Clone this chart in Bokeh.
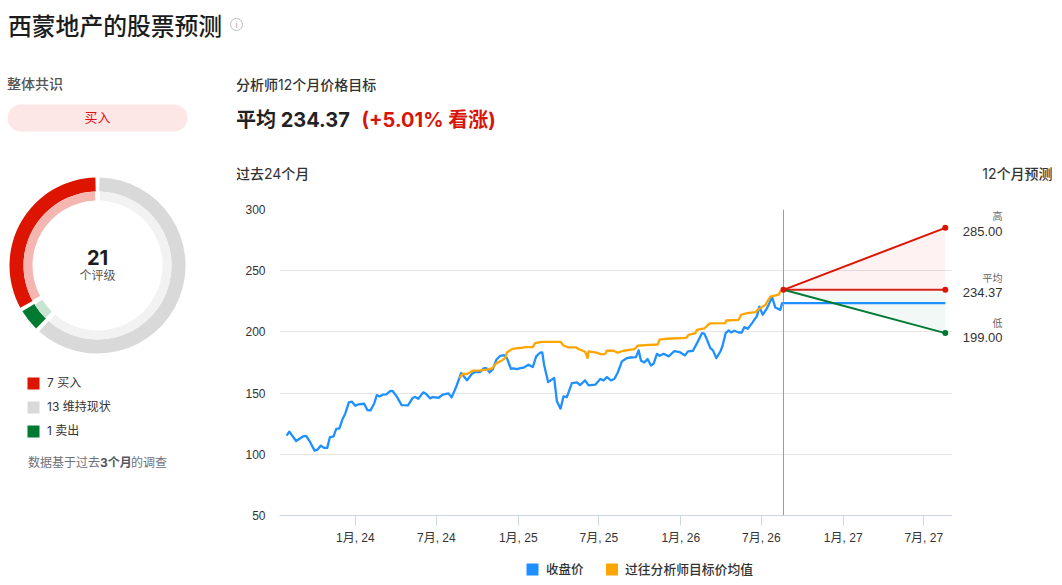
import numpy as np
from bokeh.plotting import figure
from bokeh.layouts import column, row
from bokeh.models import Range1d, FixedTicker
from bokeh.core.properties import value
from bokeh.embed import file_html
from bokeh.resources import INLINE

# ---- data: x positions, in days since 2024-01-01 after calibration below ----
close_read = [-154,-148,-133,-117,-111,-102,-92,-86,-78,-71,-64,-58,-50,-44,-37,-30,-24,-16,-9,-2,5,18,25,32,40,46,52,59,67,75.5,81,90,101,115,126,131,138,149,155,164,170,183,192,205,212,223,233,238,246,257,264,275,283,289,296,303,311,320,329,334.5,343.4,349,357,
 364,371,382.5,392,399.5,408,413,417,426,439.5,445.4,453.5,460,467.6,478.7,490,497,508,515.7,530.5,541.6,549,556.4,565.3,572.7,580,589.7,599.3,608,620.8,626.7,632,639.3,646.7,654,660,667.4,673.3,682.2,693.3,705.9,717.7,729.6,736.2,747.3,756.2,767.3,772.5,778.4,785.8,791.7,799,808,812.4,819.8,826.5,831.7,839,848.7,855.4,861.3,868.7,878.3,889.4,894.6,902,911.6,922.7,930,941,945,948,1307]
close_vals = [115.2,118.5,110.9,114.7,115,110.1,103,103.8,107.1,105.2,105.2,114.1,114.7,120.7,121.2,128.8,133.2,142.4,143,139.7,140.8,141.3,136.2,135.9,141.3,148.4,147.3,148.7,149,151.7,151.7,147.3,140.2,140,146.2,146.8,145.4,150.6,149.5,145.7,146.8,146.2,148.7,149.8,146.5,156,166.4,164.2,160.4,165.8,167.2,167.2,170.2,170.4,166.9,169.1,177.2,180.5,181,178.6,169.9,170.2,169.6,
 170.4,170.7,173.2,171.3,180,183,183.2,173.2,159,162.3,143.3,137.3,147.3,146.8,158.2,158.8,156.6,160.4,156.3,156.9,161.5,160.4,163.1,160.4,161.5,166.4,175.9,178.3,179.1,179.4,184.9,176.4,175.1,177.8,172.6,174,182.1,180.5,182.1,180,184.3,183.5,180.8,184.1,184.6,190.8,199,198.5,193.6,186.8,184.9,178.6,184,188.1,199,201.2,199.5,200.9,199.5,199.5,203.9,202.5,207.2,213.1,220.7,214,219.4,228.4,219.9,218,223.5,223.5,223.5]
target_read = [229.4,237,246,259,275,290,302,311,323.4,331,334.6,345.6,360.4,364,375,392,397,412,454,460,471,488,493.5,508,513.5,515.7,530.5,545.3,552.7,556.4,571,580,593.4,617.8,624.5,641.5,668.9,673.3,689.6,732.5,737.7,752.5,756.2,772.5,784.3,819,821.3,848.7,854,867.2,885.7,893,908,919,937.5,941,948]
target_vals = [162.3,165.8,165.5,168.3,168.5,169.1,170.2,174.5,176.7,178.6,183.2,185.9,187,186.8,187.6,187.6,190.8,191.9,191.9,188.9,187.3,187.3,186,183.8,178.6,184,183.2,181.6,182.1,184.6,184.6,183,184.6,186,188.7,189.2,189.7,193.6,194.4,195.2,197.6,199,201.7,202.8,206.9,207.2,209.3,209.9,214,215.3,216.1,218.6,222.1,228.9,230.5,233,234.37]
forecast_read = [948, 1307]
forecast_high, forecast_mean, forecast_low = 285.0, 234.37, 199.0
y_ticks = [50, 100, 150, 200, 250, 300]
x_tick_days = [0, 182, 366, 547, 731, 912, 1096, 1277]
x_tick_labels = ["1月, 24","7月, 24","1月, 25","7月, 25","1月, 26","7月, 26","1月, 27","7月, 27"]
rating_names = ["维持现状", "卖出", "买入"]
rating_counts = [13, 1, 7]
legend_order = [(7, "买入"), (13, "维持现状"), (1, "卖出")]

def to_days(read):
    return [(d + 1.6) * 1.0128 for d in read]

close_days, target_days, fd = to_days(close_read), to_days(target_read), to_days(forecast_read)

RED, GREY, GREEN = "#dd1400", "#d9d9d9", "#007a33"
BLUE, ORANGE = "#1e90ff", "#ffa500"
UI = "Inter, 'Noto Sans CJK SC'"
MEDIUM = "Inter, 'Noto Sans CJK SC Medium', 'Noto Sans CJK SC'"
AXIS = "'Liberation Sans', 'Noto Sans CJK SC'"

def blank(x0, x1, y0, y1):
    """A panel without axes, whose data coordinates are page pixels."""
    f = figure(width=x1 - x0, height=y1 - y0, x_range=(x0, x1), y_range=(y1, y0), output_backend="svg",
               toolbar_location=None, min_border=0, x_axis_type=None, y_axis_type=None)
    f.grid.visible = False
    f.outline_line_color = None
    f.frame_align = False
    return f

def txt(f, x, y, s, size, color="#333333", style="normal", align="left", font=UI):
    f.text([x - 1 if align == "left" else x], [y], text=[s], text_font=value(font), text_font_size=f"{size}px",
           text_color=color, text_font_style=style, text_align=align, text_baseline="middle")

# ---- title strip ----
top = blank(0, 1060, 0, 68)
txt(top, 8.5, 26, "西蒙地产的股票预测", 23.8, "#1c1c1c", font=MEDIUM)
top.scatter([236], [24], size=12, marker="circle", fill_color=None, line_color="#bdbdbd", line_width=1)
txt(top, 236, 24, "i", 9, "#a8a8a8", "normal", "center")

# ---- left panel ----
left = blank(0, 236, 68, 583)
txt(left, 7.5, 83, "整体共识", 14, "#555555", font=MEDIUM)
left.line([20.5, 173.5], [117.5, 117.5], line_width=27, line_cap="round", line_color="#fce6e6")
txt(left, 97, 116, "买入", 13, "#e01010", "normal", "center")

CX, CY = 97, 265
counts = np.array(rating_counts, float)
edges = np.concatenate([[0], np.cumsum(counts)]) / counts.sum() * 2 * np.pi
outer_cols = [GREY, GREEN, RED]
inner_cols = ["#f2f2f2", "#c9e3d3", "#f5b5b0"]
gap = 0.024
for i in range(3):
    # angles are screen angles: slices run clockwise from twelve o'clock
    start = np.pi / 2 - edges[i + 1] + gap
    end = np.pi / 2 - edges[i] - gap
    left.annular_wedge([CX], [CY], inner_radius=74, outer_radius=88, start_angle=start, end_angle=end,
                       direction="anticlock", fill_color=outer_cols[i], line_color=None)
    left.annular_wedge([CX], [CY], inner_radius=65, outer_radius=74, start_angle=start + gap * .4, end_angle=end - gap * .4,
                       direction="anticlock", fill_color=inner_cols[i], line_color=None)
txt(left, 97, 257, "21", 20, "#1c1c1c", "bold", "center")
txt(left, 97, 275, "个评级", 12, "#555555", "normal", "center")

colors = [RED, GREY, GREEN]
for k, ((n, name), c) in enumerate(zip(legend_order, colors)):
    yc = 383 + 24 * k
    left.scatter([33], [yc], marker="square", size=12, fill_color=c, line_color=None)
    txt(left, 47.5, yc - 1, f"{n} {name}", 12, "#333333")
txt(left, 28.5, 462, "数据基于过去", 12, "#6f6f7b")
txt(left, 100.5, 462, "3个月", 12, "#555560", "bold")
txt(left, 131.5, 462, "的调查", 12, "#6f6f7b")

# ---- header above the chart ----
head = blank(236, 1060, 68, 200)
txt(head, 236.5, 83.5, "分析师12个月价格目标", 14, "#333333", font=MEDIUM)
txt(head, 236.5, 119, "平均 234.37", 20, "#222222", "bold")
txt(head, 362, 119, "(+5.01% 看涨)", 20, "#d8150a", "bold")
txt(head, 236.5, 172.5, "过去24个月", 14, "#333333", font=MEDIUM)
txt(head, 1052, 172.5, "12个月预测", 14, "#333333", "normal", "right", font=MEDIUM)

# ---- main chart ----
PX_PER_DAY = 0.4448
x0 = (279.5 - 355.3) / PX_PER_DAY
x1 = (952 - 355.3) / PX_PER_DAY
p = figure(width=716, height=355, x_range=Range1d(x0, x1), y_range=Range1d(50, 300),
           output_backend="svg", toolbar_location=None,
           min_border_left=43, min_border_right=0, min_border_top=9, min_border_bottom=40)
p.frame_align = False
p.outline_line_color = None
p.xgrid.visible = False
p.ygrid.grid_line_color = "#e6e6e6"
p.ygrid.ticker = FixedTicker(ticks=y_ticks)

p.yaxis.ticker = FixedTicker(ticks=y_ticks)
p.yaxis.axis_line_color = None
p.yaxis.major_tick_line_color = None
p.yaxis.minor_tick_line_color = None
p.yaxis.major_label_text_font = AXIS
p.yaxis.major_label_text_font_size = "12px"
p.yaxis.major_label_text_color = "#333333"
p.yaxis.major_label_standoff = 8

p.xaxis.ticker = FixedTicker(ticks=x_tick_days)
p.xaxis.major_label_overrides = dict(zip(x_tick_days, x_tick_labels))
p.xaxis.axis_line_color = "#ccd6eb"
p.xaxis.major_tick_line_color = "#ccd6eb"
p.xaxis.major_tick_in = 0
p.xaxis.major_tick_out = 10
p.xaxis.minor_tick_line_color = None
p.xaxis.major_label_text_font = AXIS
p.xaxis.major_label_text_font_size = "12px"
p.xaxis.major_label_text_color = "#333333"
p.xaxis.major_label_standoff = 5

p.varea(x=fd, y1=[forecast_mean, forecast_high], y2=[forecast_mean, forecast_mean], fill_color="#ff0000", fill_alpha=0.05)
p.varea(x=fd, y1=[forecast_mean, forecast_mean], y2=[forecast_mean, forecast_low], fill_color=GREEN, fill_alpha=0.05)
p.line(close_days, close_vals, line_color=BLUE, line_width=2.3, line_join="round")
p.line(target_days, target_vals, line_color=ORANGE, line_width=2.3, line_join="round")
p.line(fd, [forecast_mean, forecast_high], line_color=RED, line_width=2)
p.line(fd, [forecast_mean, forecast_mean], line_color="#d5251a", line_width=2)
p.line(fd, [forecast_mean, forecast_low], line_color=GREEN, line_width=2)
p.line([fd[0], fd[0]], [50, 300], line_color="#999999", line_width=1)
p.scatter([fd[0]] + [fd[1]] * 2, [forecast_mean, forecast_high, forecast_mean], size=6, fill_color=RED, line_color=None)
p.scatter([fd[1]], [forecast_low], size=6, fill_color=GREEN, line_color=None)

# ---- forecast labels to the right of the chart ----
side = blank(952, 1060, 200, 555)
txt(side, 1002, 216, "高", 10, "#666666", "normal", "right", AXIS)
txt(side, 1002, 230.5, f"{forecast_high:.2f}", 13, "#333333", "normal", "right", AXIS)
txt(side, 1002, 278, "平均", 10, "#666666", "normal", "right", AXIS)
txt(side, 1002, 292, f"{forecast_mean:.2f}", 13, "#333333", "normal", "right", AXIS)
txt(side, 1002, 322.5, "低", 10, "#666666", "normal", "right", AXIS)
txt(side, 1002, 337, f"{forecast_low:.2f}", 13, "#333333", "normal", "right", AXIS)

# ---- legend under the chart ----
foot = blank(236, 1060, 555, 583)
foot.scatter([532], [569], marker="square", size=12, fill_color=BLUE, line_color=None)
foot.scatter([611.5], [569], marker="square", size=12, fill_color=ORANGE, line_color=None)
txt(foot, 546.5, 569, "收盘价", 12.5, "#333333", font=MEDIUM)
txt(foot, 625.5, 569, "过往分析师目标价均值", 12.8, "#333333", font=MEDIUM)

right = column(head, row(p, side, spacing=0), foot, spacing=0)
layout = column(top, row(left, right, spacing=0), spacing=0)
open("out.html", "w").write(file_html(layout, INLINE))
